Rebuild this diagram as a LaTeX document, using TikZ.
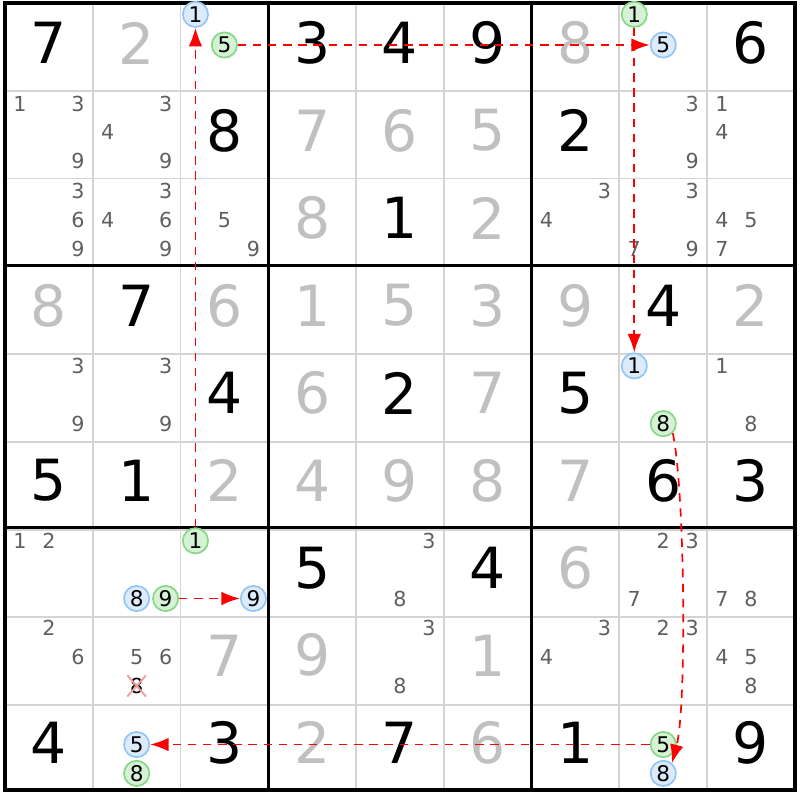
\documentclass[tikz,border=0pt]{standalone}
\usepackage{fontspec}
\setmainfont{DejaVu Sans}
\usetikzlibrary{arrows.meta,shapes.misc}

\definecolor{solvedgray}{HTML}{C0C0C0}
\definecolor{candgray}{HTML}{5F5F5F}
\definecolor{gridgray}{HTML}{D4D4D4}
\definecolor{bluefill}{HTML}{DCEBFB}
\definecolor{blueline}{HTML}{94C6F4}
\definecolor{greenfill}{HTML}{D5F2D5}
\definecolor{greenline}{HTML}{86D786}
\definecolor{crossred}{HTML}{F29D9D}

\begin{document}
\begin{tikzpicture}[x=1cm, y=0.9963cm,
  given/.style={inner sep=0pt, font=\fontsize{18.4}{20}\selectfont},
  solved/.style={given, text=solvedgray},
  cand/.style={inner sep=0pt, text=candgray, font=\fontsize{6.7}{8}\selectfont},
  bubble/.style={circle, inner sep=0.3pt, minimum size=8.2pt, line width=0.55pt, font=\fontsize{7}{8}\selectfont},
  bluec/.style={bubble, draw=blueline, fill=bluefill},
  greenc/.style={bubble, draw=greenline, fill=greenfill},
  gone/.style={cross out, draw=crossred, line width=0.6pt, inner sep=0.6pt, font=\fontsize{6.7}{8}\selectfont},
  link/.style={red, line width=0.55pt, dash pattern=on 2.7pt off 2.2pt, -{Latex[length=6pt,width=4.4pt]}}]

\useasboundingbox (-0.057,0.0343) rectangle (9.057,-9.1145);

\draw[gridgray, line width=0.6pt] (0,0) grid (9,-9);

\draw[line width=1pt] (0,0) rectangle (3,-3);
\draw[line width=1pt] (3,0) rectangle (6,-3);
\draw[line width=1pt] (6,0) rectangle (9,-3);
\draw[line width=1pt] (0,-3) rectangle (3,-6);
\draw[line width=1pt] (3,-3) rectangle (6,-6);
\draw[line width=1pt] (6,-3) rectangle (9,-6);
\draw[line width=1pt] (0,-6) rectangle (3,-9);
\draw[line width=1pt] (3,-6) rectangle (6,-9);
\draw[line width=1pt] (6,-6) rectangle (9,-9);
\draw[line width=1.2pt] (0,0) rectangle (9,-9);

% row 1
\node[given] (r1c1) at (0.5,-0.46) {7};
\node[solved] (r1c2) at (1.5,-0.46) {2};
\node[bluec] (r1c3b1) at (2.17,-0.13) {1};
\node[greenc] (r1c3g5) at (2.5,-0.48) {5};
\node[given] (r1c4) at (3.5,-0.46) {3};
\node[given] (r1c5) at (4.5,-0.46) {4};
\node[given] (r1c6) at (5.5,-0.46) {9};
\node[solved] (r1c7) at (6.5,-0.46) {8};
\node[greenc] (r1c8g1) at (7.17,-0.13) {1};
\node[bluec] (r1c8b5) at (7.5,-0.48) {5};
\node[given] (r1c9) at (8.5,-0.46) {6};

% row 2
\node[cand] (r2c1n1) at (0.17,-1.15) {1};
\node[cand] (r2c1n3) at (0.83,-1.15) {3};
\node[cand] (r2c1n9) at (0.83,-1.81) {9};
\node[cand] (r2c2n3) at (1.83,-1.15) {3};
\node[cand] (r2c2n4) at (1.17,-1.48) {4};
\node[cand] (r2c2n9) at (1.83,-1.81) {9};
\node[given] (r2c3) at (2.5,-1.46) {8};
\node[solved] (r2c4) at (3.5,-1.46) {7};
\node[solved] (r2c5) at (4.5,-1.46) {6};
\node[solved] (r2c6) at (5.5,-1.46) {5};
\node[given] (r2c7) at (6.5,-1.46) {2};
\node[cand] (r2c8n3) at (7.83,-1.15) {3};
\node[cand] (r2c8n9) at (7.83,-1.81) {9};
\node[cand] (r2c9n1) at (8.17,-1.15) {1};
\node[cand] (r2c9n4) at (8.17,-1.48) {4};

% row 3
\node[cand] (r3c1n3) at (0.83,-2.15) {3};
\node[cand] (r3c1n6) at (0.83,-2.48) {6};
\node[cand] (r3c1n9) at (0.83,-2.81) {9};
\node[cand] (r3c2n3) at (1.83,-2.15) {3};
\node[cand] (r3c2n4) at (1.17,-2.48) {4};
\node[cand] (r3c2n6) at (1.83,-2.48) {6};
\node[cand] (r3c2n9) at (1.83,-2.81) {9};
\node[cand] (r3c3n5) at (2.5,-2.48) {5};
\node[cand] (r3c3n9) at (2.83,-2.81) {9};
\node[solved] (r3c4) at (3.5,-2.46) {8};
\node[given] (r3c5) at (4.5,-2.46) {1};
\node[solved] (r3c6) at (5.5,-2.46) {2};
\node[cand] (r3c7n3) at (6.83,-2.15) {3};
\node[cand] (r3c7n4) at (6.17,-2.48) {4};
\node[cand] (r3c8n3) at (7.83,-2.15) {3};
\node[cand] (r3c8n7) at (7.17,-2.81) {7};
\node[cand] (r3c8n9) at (7.83,-2.81) {9};
\node[cand] (r3c9n4) at (8.17,-2.48) {4};
\node[cand] (r3c9n5) at (8.5,-2.48) {5};
\node[cand] (r3c9n7) at (8.17,-2.81) {7};

% row 4
\node[solved] (r4c1) at (0.5,-3.46) {8};
\node[given] (r4c2) at (1.5,-3.46) {7};
\node[solved] (r4c3) at (2.5,-3.46) {6};
\node[solved] (r4c4) at (3.5,-3.46) {1};
\node[solved] (r4c5) at (4.5,-3.46) {5};
\node[solved] (r4c6) at (5.5,-3.46) {3};
\node[solved] (r4c7) at (6.5,-3.46) {9};
\node[given] (r4c8) at (7.5,-3.46) {4};
\node[solved] (r4c9) at (8.5,-3.46) {2};

% row 5
\node[cand] (r5c1n3) at (0.83,-4.15) {3};
\node[cand] (r5c1n9) at (0.83,-4.81) {9};
\node[cand] (r5c2n3) at (1.83,-4.15) {3};
\node[cand] (r5c2n9) at (1.83,-4.81) {9};
\node[given] (r5c3) at (2.5,-4.46) {4};
\node[solved] (r5c4) at (3.5,-4.46) {6};
\node[given] (r5c5) at (4.5,-4.46) {2};
\node[solved] (r5c6) at (5.5,-4.46) {7};
\node[given] (r5c7) at (6.5,-4.46) {5};
\node[bluec] (r5c8b1) at (7.17,-4.15) {1};
\node[greenc] (r5c8g8) at (7.5,-4.81) {8};
\node[cand] (r5c9n1) at (8.17,-4.15) {1};
\node[cand] (r5c9n8) at (8.5,-4.81) {8};

% row 6
\node[given] (r6c1) at (0.5,-5.46) {5};
\node[given] (r6c2) at (1.5,-5.46) {1};
\node[solved] (r6c3) at (2.5,-5.46) {2};
\node[solved] (r6c4) at (3.5,-5.46) {4};
\node[solved] (r6c5) at (4.5,-5.46) {9};
\node[solved] (r6c6) at (5.5,-5.46) {8};
\node[solved] (r6c7) at (6.5,-5.46) {7};
\node[given] (r6c8) at (7.5,-5.46) {6};
\node[given] (r6c9) at (8.5,-5.46) {3};

% row 7
\node[cand] (r7c1n1) at (0.17,-6.15) {1};
\node[cand] (r7c1n2) at (0.5,-6.15) {2};
\node[bluec] (r7c2b8) at (1.5,-6.81) {8};
\node[greenc] (r7c2g9) at (1.83,-6.81) {9};
\node[greenc] (r7c3g1) at (2.17,-6.15) {1};
\node[bluec] (r7c3b9) at (2.83,-6.81) {9};
\node[given] (r7c4) at (3.5,-6.46) {5};
\node[cand] (r7c5n3) at (4.83,-6.15) {3};
\node[cand] (r7c5n8) at (4.5,-6.81) {8};
\node[given] (r7c6) at (5.5,-6.46) {4};
\node[solved] (r7c7) at (6.5,-6.46) {6};
\node[cand] (r7c8n2) at (7.5,-6.15) {2};
\node[cand] (r7c8n3) at (7.83,-6.15) {3};
\node[cand] (r7c8n7) at (7.17,-6.81) {7};
\node[cand] (r7c9n7) at (8.17,-6.81) {7};
\node[cand] (r7c9n8) at (8.5,-6.81) {8};

% row 8
\node[cand] (r8c1n2) at (0.5,-7.15) {2};
\node[cand] (r8c1n6) at (0.83,-7.48) {6};
\node[cand] (r8c2n5) at (1.5,-7.48) {5};
\node[cand] (r8c2n6) at (1.83,-7.48) {6};
\node[gone] (r8c2x8) at (1.5,-7.81) {8};
\node[solved] (r8c3) at (2.5,-7.46) {7};
\node[solved] (r8c4) at (3.5,-7.46) {9};
\node[cand] (r8c5n3) at (4.83,-7.15) {3};
\node[cand] (r8c5n8) at (4.5,-7.81) {8};
\node[solved] (r8c6) at (5.5,-7.46) {1};
\node[cand] (r8c7n3) at (6.83,-7.15) {3};
\node[cand] (r8c7n4) at (6.17,-7.48) {4};
\node[cand] (r8c8n2) at (7.5,-7.15) {2};
\node[cand] (r8c8n3) at (7.83,-7.15) {3};
\node[cand] (r8c9n4) at (8.17,-7.48) {4};
\node[cand] (r8c9n5) at (8.5,-7.48) {5};
\node[cand] (r8c9n8) at (8.5,-7.81) {8};

% row 9
\node[given] (r9c1) at (0.5,-8.46) {4};
\node[bluec] (r9c2b5) at (1.5,-8.48) {5};
\node[greenc] (r9c2g8) at (1.5,-8.81) {8};
\node[given] (r9c3) at (2.5,-8.46) {3};
\node[solved] (r9c4) at (3.5,-8.46) {2};
\node[given] (r9c5) at (4.5,-8.46) {7};
\node[solved] (r9c6) at (5.5,-8.46) {6};
\node[given] (r9c7) at (6.5,-8.46) {1};
\node[greenc] (r9c8g5) at (7.5,-8.48) {5};
\node[bluec] (r9c8b8) at (7.5,-8.81) {8};
\node[given] (r9c9) at (8.5,-8.46) {9};

% chain
\draw[link] (r7c3g1) -- (r1c3b1);
\draw[link] (r1c3g5) -- (r1c8b5);
\draw[link] (r1c8g1) -- (r5c8b1);
\draw[link] (r5c8g8.-45) to[out=-78, in=75, looseness=0.45] (r9c8b8.50);
\draw[link] (r9c8g5) -- (r9c2b5);
\draw[link] (r7c2g9) -- (r7c3b9);

\end{tikzpicture}
\end{document}
